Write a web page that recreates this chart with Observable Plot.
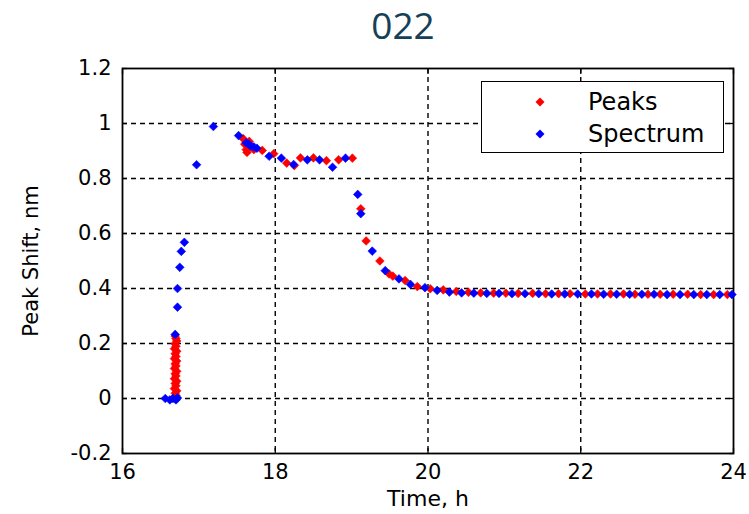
<!DOCTYPE html>
<html>
<head>
<meta charset="utf-8">
<script src="https://cdn.jsdelivr.net/npm/d3@7"></script>
<script src="https://cdn.jsdelivr.net/npm/@observablehq/plot@0.6"></script>
<style>
  body { margin: 0; background: #fff; }
  #wrap { position: relative; width: 749px; height: 514px; overflow: hidden; background: #fff; }
  #title { position: absolute; left: 303px; width: 200px; top: 0; height: 50px; text-align: center;
           font-family: "Open Sans", sans-serif; font-size: 37px; line-height: 50px; color: #163f58; }
  #chart { position: absolute; left: 0; top: 50px; }
  #legend { position: absolute; left: 481px; top: 81px; width: 241px; height: 70px;
            border: 1.5px solid #000; background: #fff; font-family: "DejaVu Sans", sans-serif;
            font-size: 24px; color: #000; }
  .row { position: absolute; left: 0; height: 30px; width: 100%; }
  .row svg { position: absolute; left: 53px; top: 10px; }
  .row span { position: absolute; left: 106px; top: 0; line-height: 30px; }
</style>
</head>
<body>
<div id="wrap">
  <div id="title">022</div>
  <div id="chart"></div>
  <div id="legend"></div>
</div>
<script>
// ---- data ----
const titleText = "022";
const seriesNames = ["Peaks", "Spectrum"];
const seriesColors = ["#ff0000", "#0000ff"];
const xLabel = "Time, h";
const yLabel = "Peak Shift, nm";
const xTicks = [16, 18, 20, 22, 24];
const yTicks = [-0.2, 0, 0.2, 0.4, 0.6, 0.8, 1, 1.2];
const xTickLabels = ["16", "18", "20", "22", "24"];
const yTickLabels = ["-0.2", "0", "0.2", "0.4", "0.6", "0.8", "1", "1.2"];

// Peaks (red)
const peakTime = [
  16.68, 16.70, 16.69, 16.71, 16.68, 16.70, 16.69, 16.71, 16.68, 16.70,
  16.69, 16.71, 16.68, 16.70, 16.69, 16.71, 16.68, 16.70, 16.69, 16.71,
  16.68, 16.70, 16.69, 16.71, 16.70, 16.69,
  17.58, 17.60, 17.62, 17.63, 17.66, 17.69, 17.72, 17.83, 17.98, 18.15,
  18.25, 18.33, 18.50, 18.67, 18.83, 19.01, 19.12, 19.19, 19.37, 19.49,
  19.54, 19.70, 19.86, 20.03, 20.20, 20.37, 20.53, 20.69, 20.86, 21.02,
  21.18, 21.37, 21.54, 21.71, 21.86, 22.06, 22.22, 22.39, 22.56, 22.71,
  22.88, 23.04, 23.21, 23.40, 23.57, 23.74, 23.92
];
const peakShift = [
  0.002, 0.011, 0.019, 0.028, 0.036, 0.046, 0.055, 0.063, 0.072, 0.082,
  0.090, 0.099, 0.109, 0.118, 0.126, 0.136, 0.145, 0.153, 0.163, 0.172,
  0.181, 0.190, 0.199, 0.209, 0.218, 0.227,
  0.945, 0.925, 0.905, 0.895, 0.935, 0.915, 0.905, 0.902, 0.890, 0.856,
  0.847, 0.875, 0.875, 0.865, 0.868, 0.874, 0.690, 0.573, 0.500, 0.453,
  0.445, 0.429, 0.407, 0.399, 0.395, 0.389, 0.386, 0.384, 0.383, 0.383,
  0.382, 0.382, 0.381, 0.381, 0.381, 0.380, 0.380, 0.380, 0.380, 0.379,
  0.379, 0.379, 0.379, 0.379, 0.378, 0.378, 0.378
];

// Spectrum (blue)
const specTime = [
  16.56, 16.62, 16.66, 16.70, 16.72, 16.69, 16.72, 16.72, 16.75, 16.77,
  16.81, 16.97, 17.19, 17.52, 17.62, 17.65, 17.68, 17.72, 17.76, 17.92,
  18.08, 18.24, 18.42, 18.58, 18.75, 18.92, 19.08, 19.12, 19.27, 19.44,
  19.62, 19.77, 19.96, 20.12, 20.28, 20.44, 20.60, 20.77, 20.93, 21.10,
  21.27, 21.45, 21.62, 21.79, 21.96, 22.14, 22.30, 22.47, 22.64, 22.80,
  22.96, 23.13, 23.30, 23.48, 23.65, 23.82, 23.98
];
const specShift = [
  0.000, -0.005, 0.000, -0.005, 0.002, 0.233, 0.332, 0.400, 0.477, 0.535,
  0.568, 0.850, 0.989, 0.956, 0.930, 0.925, 0.918, 0.915, 0.910, 0.881,
  0.874, 0.851, 0.868, 0.868, 0.841, 0.874, 0.742, 0.672, 0.536, 0.465,
  0.435, 0.415, 0.403, 0.393, 0.387, 0.384, 0.383, 0.382, 0.382, 0.381,
  0.381, 0.381, 0.380, 0.380, 0.380, 0.380, 0.379, 0.379, 0.379, 0.379,
  0.379, 0.378, 0.378, 0.378, 0.378, 0.378, 0.378
];

// ---- build ----
document.getElementById("title").textContent = titleText;
const peaks = peakTime.map((t, i) => ({t, v: peakShift[i]}));
const spec = specTime.map((t, i) => ({t, v: specShift[i]}));
const xFmt = d => xTickLabels[xTicks.indexOf(d)];
const yFmt = d => yTickLabels[yTicks.indexOf(d)];
const grid = {stroke: "#000", strokeOpacity: 1, strokeWidth: 1.4, strokeDasharray: "5,4"};

const chart = Plot.plot({
  width: 749,
  height: 464,
  marginTop: 18,
  marginBottom: 61,
  marginLeft: 122,
  marginRight: 16,
  style: {fontFamily: "DejaVu Sans, sans-serif", fontSize: "21px", color: "#000", background: "#fff"},
  x: {domain: [16, 24]},
  y: {domain: [-0.2, 1.2]},
  marks: [
    Plot.gridX(xTicks.slice(1, -1), grid),
    Plot.gridY(yTicks.slice(1, -1), grid),
    Plot.axisX(xTicks, {anchor: "bottom", tickSize: 0, tickPadding: 11, tickFormat: xFmt, label: null}),
    Plot.axisX(xTicks, {anchor: "bottom", tickSize: -5, tickFormat: () => "", label: null, strokeWidth: 1.3}),
    Plot.axisX(xTicks, {anchor: "top", tickSize: -5, tickFormat: () => "", label: null, strokeWidth: 1.3}),
    Plot.axisY(yTicks, {anchor: "left", tickSize: 0, tickPadding: 11, tickFormat: yFmt, label: null}),
    Plot.axisY(yTicks, {anchor: "left", tickSize: -5, tickFormat: () => "", label: null, strokeWidth: 1.3}),
    Plot.axisY(yTicks, {anchor: "right", tickSize: -5, tickFormat: () => "", label: null, strokeWidth: 1.3}),
    Plot.text([xLabel], {frameAnchor: "bottom", dy: 45, lineAnchor: "middle", fontSize: 22, fill: "#000"}),
    Plot.text([yLabel], {frameAnchor: "left", dx: -91, rotate: -90, textAnchor: "middle", fontSize: 21, fill: "#000"}),
    Plot.frame({stroke: "#000", strokeWidth: 1.8}),
    Plot.dot(peaks, {x: "t", y: "v", symbol: "diamond2", r: 3.9, fill: seriesColors[0], stroke: seriesColors[0], strokeWidth: 0.6}),
    Plot.dot(spec, {x: "t", y: "v", symbol: "diamond2", r: 3.9, fill: seriesColors[1], stroke: seriesColors[1], strokeWidth: 0.6})
  ]
});
document.getElementById("chart").appendChild(chart);

// legend
const legend = document.getElementById("legend");
seriesNames.forEach((name, i) => {
  const row = document.createElement("div");
  row.className = "row";
  row.style.top = (5 + i * 32) + "px";
  row.innerHTML = `<svg width="10" height="10" viewBox="-5 -5 10 10"><path d="M0,-4.5L4.5,0L0,4.5L-4.5,0Z" fill="${seriesColors[i]}"/></svg><span>${name}</span>`;
  legend.appendChild(row);
});
</script>
</body>
</html>
